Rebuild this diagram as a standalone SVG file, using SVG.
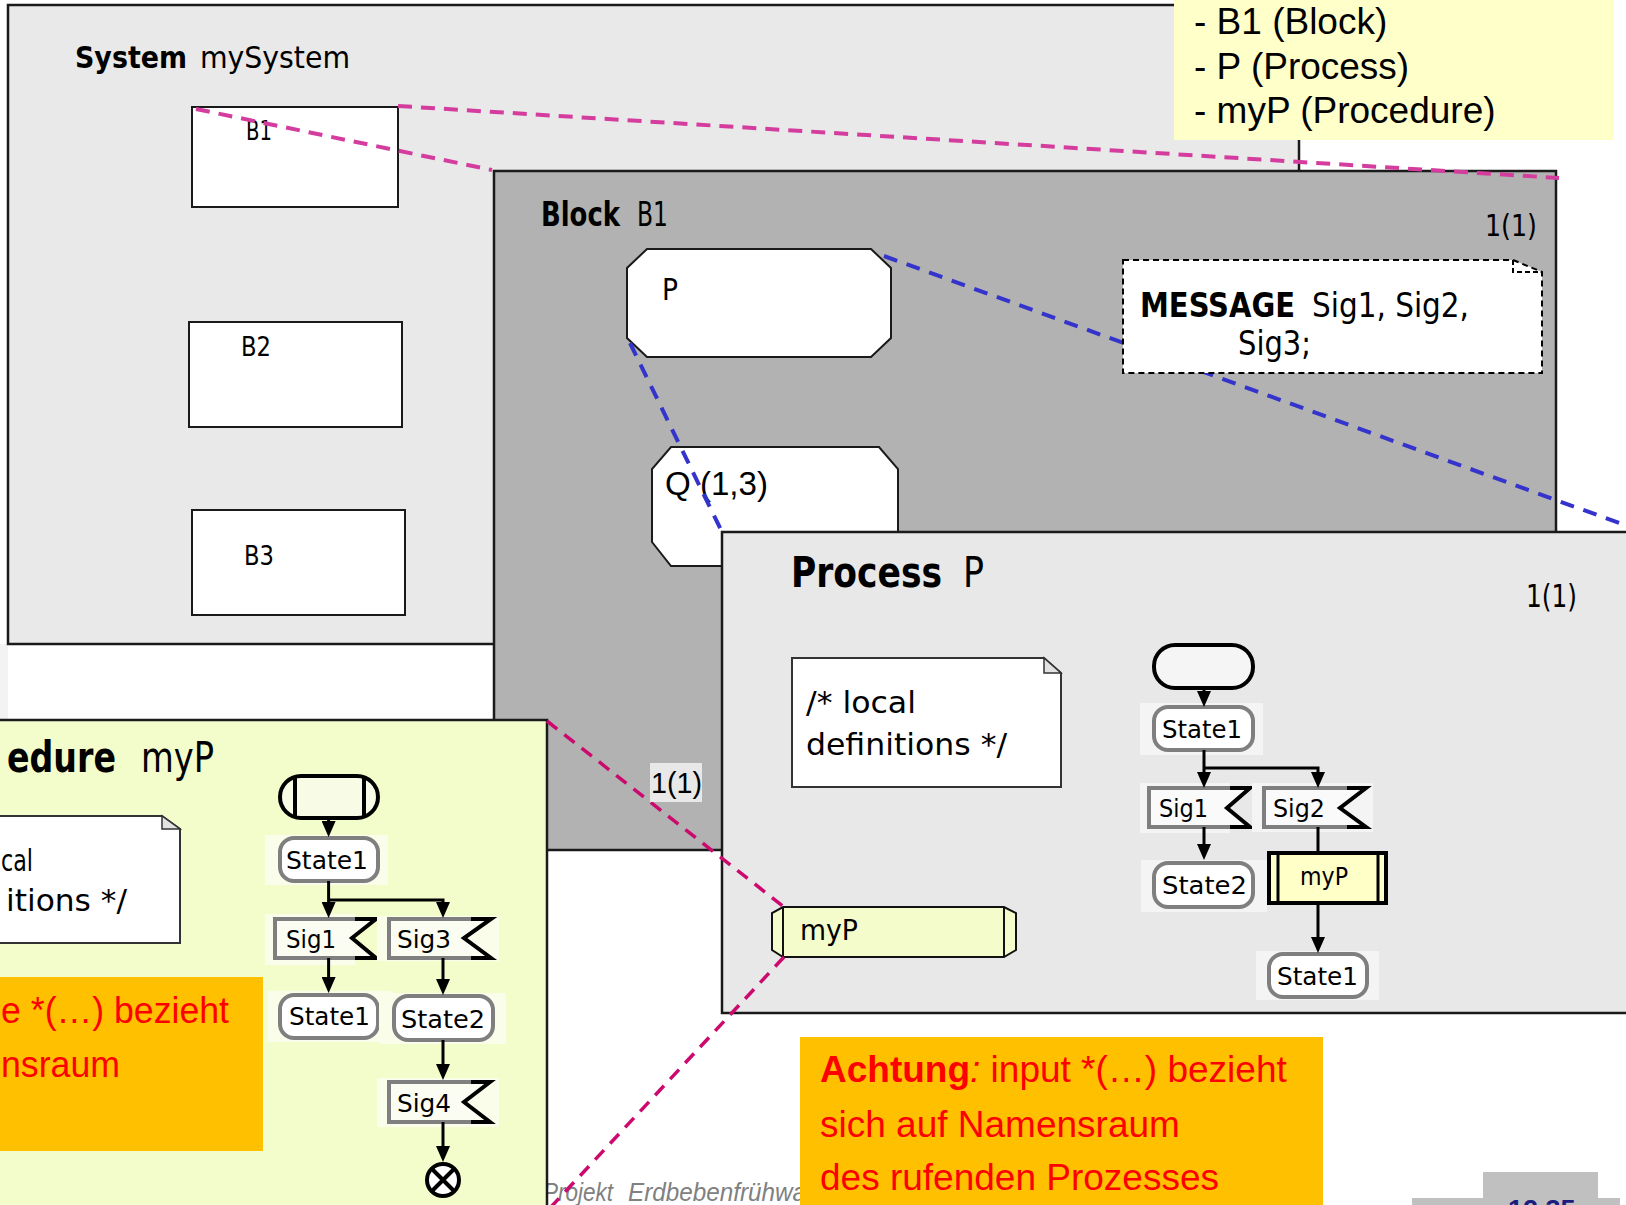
<svg xmlns="http://www.w3.org/2000/svg" width="1626" height="1205" viewBox="0 0 1626 1205">
<defs>
<style>
.c{font-family:"DejaVu Sans Condensed","DejaVu Sans",sans-serif;font-stretch:condensed;fill:#000}
.b{font-weight:bold}
.a{font-family:"Liberation Sans",Arial,sans-serif}
.frame{stroke:#1a1a1a;stroke-width:2.5}
.box{fill:#fff;stroke:#1a1a1a;stroke-width:2}
.state{stroke:#7f7f7f;stroke-width:4}
.ingray{fill:none;stroke:#7f7f7f;stroke-width:4}
.inblk{fill:none;stroke:#000;stroke-width:4}
.flow{fill:none;stroke:#000;stroke-width:3}
.pink{fill:none;stroke:#d43d9e;stroke-width:4;stroke-dasharray:14 9}
.blue{fill:none;stroke:#3434cc;stroke-width:4;stroke-dasharray:14 10}
.mag{fill:none;stroke:#cc0a6e;stroke-width:3.5;stroke-dasharray:13 9}
.note{fill:#fff;stroke:#333;stroke-width:2}
.fold{fill:#e2e2e2;stroke:#333;stroke-width:1.5}
.red{fill:#ff0000;font-size:37px}
.ft{font-size:25px}
.pbg{fill:#f4f4f4}
.qbg{fill:#f9fde9}
</style>
<marker id="ah" markerUnits="userSpaceOnUse" markerWidth="16" markerHeight="14" refX="8" refY="7" orient="auto">
<path d="M0,0 L16,7 L0,14 Z" fill="#000"/>
</marker>
</defs>

<rect width="1626" height="1205" fill="#fff"/>
<rect x="0" y="644" width="8" height="76" fill="#f3f3f3"/>

<!-- system level -->
<g id="system-mySystem">
<rect class="frame" x="8" y="5" width="1291" height="639" fill="#e9e9e9"/>
<text class="c" y="68" font-size="31"><tspan class="b" x="75" textLength="112" lengthAdjust="spacingAndGlyphs">System</tspan><tspan x="200" textLength="150" lengthAdjust="spacingAndGlyphs">mySystem</tspan></text>
</g>
<g id="block-B1-ref">
<rect class="box" x="192" y="107" width="206" height="100"/>
<text class="c" x="246" y="140" font-size="27" textLength="26" lengthAdjust="spacingAndGlyphs">B1</text>
</g>
<g id="block-B2-ref">
<rect class="box" x="189" y="322" width="213" height="105"/>
<text class="c" x="241" y="356" font-size="27" textLength="30" lengthAdjust="spacingAndGlyphs">B2</text>
</g>
<g id="block-B3-ref">
<rect class="box" x="192" y="510" width="213" height="105"/>
<text class="c" x="244" y="565" font-size="27" textLength="30" lengthAdjust="spacingAndGlyphs">B3</text>
</g>

<!-- legend -->
<g id="legend">
<rect x="1174" y="0" width="440" height="140" fill="#ffffc9"/>
<text class="a" x="1194" font-size="37" fill="#000"><tspan y="34">- B1 (Block)</tspan><tspan x="1194" y="79">- P (Process)</tspan><tspan x="1194" y="123">- myP (Procedure)</tspan></text>
</g>

<!-- block level -->
<g id="block-B1">
<rect class="frame" x="494" y="171" width="1062" height="679" fill="#b2b2b2"/>
<text class="c" y="226" font-size="33"><tspan class="b" x="541" textLength="79" lengthAdjust="spacingAndGlyphs">Block</tspan><tspan x="637" textLength="31" lengthAdjust="spacingAndGlyphs">B1</tspan></text>
<text class="c" x="1485" y="236" font-size="30" textLength="52" lengthAdjust="spacingAndGlyphs">1(1)</text>
</g>
<g id="process-P-ref">
<polygon class="box" points="647,249 871,249 891,268 891,338 871,357 647,357 627,338 627,268"/>
<text class="c" x="662" y="300" font-size="31" textLength="16" lengthAdjust="spacingAndGlyphs">P</text>
</g>
<g id="process-Q-ref">
<polygon class="box" points="671,447 879,447 898,469 898,542 879,566 671,566 652,542 652,469"/>
<text class="a" x="665" y="495" font-size="33" textLength="103" lengthAdjust="spacingAndGlyphs">Q (1,3)</text>
</g>

<!-- process level -->
<g id="process-P">
<rect class="frame" x="722" y="532" width="930" height="481" fill="#e8e8e8"/>
<text class="c" y="587" font-size="42"><tspan class="b" x="791" textLength="151" lengthAdjust="spacingAndGlyphs">Process</tspan><tspan x="963" textLength="21" lengthAdjust="spacingAndGlyphs">P</tspan></text>
<text class="c" x="1526" y="607" font-size="32" textLength="51" lengthAdjust="spacingAndGlyphs">1(1)</text>
</g>
<g id="process-local-defs">
<path class="note" d="M792,658 H1044 L1061,673 V787 H792 Z"/>
<path class="fold" d="M1044,658 V673 H1061 Z"/>
<text class="c" font-size="31"><tspan x="806" y="713" textLength="110" lengthAdjust="spacingAndGlyphs">/* local</tspan><tspan x="806" y="755" textLength="201" lengthAdjust="spacingAndGlyphs">definitions */</tspan></text>
</g>
<g id="procedure-myP-ref">
<polygon points="783,907 1004,907 1016,913 1016,950 1004,957 783,957 772,950 772,913" fill="#f3fcca" stroke="#111" stroke-width="2"/>
<path d="M783,907 V957 M1004,907 V957" stroke="#111" stroke-width="2"/>
<text class="c" x="800" y="940" font-size="29" textLength="58" lengthAdjust="spacingAndGlyphs">myP</text>
</g>
<g id="p-start">
<rect x="1154" y="645" width="99" height="43" rx="21" fill="#f5f5f5" stroke="#000" stroke-width="4"/>
</g>
<g id="p-state1">
<rect class="pbg" x="1140" y="703" width="123" height="52"/>
<rect class="state" x="1154" y="707" width="99" height="43" rx="14" fill="#fff"/>
<text class="c ft" x="1162" y="738" textLength="80" lengthAdjust="spacingAndGlyphs">State1</text>
</g>
<g id="p-sig1">
<rect class="pbg" x="1140" y="783" width="90" height="50"/>
<path d="M1149,788 H1250 L1227,808 L1250,827 H1149 Z" fill="#fafafa"/>
<path class="ingray" d="M1230,788 H1149 V827 H1230"/>
<path class="inblk" d="M1230,788 H1250 L1227,808 L1250,827 H1230"/>
<text class="c ft" x="1159" y="817" textLength="49" lengthAdjust="spacingAndGlyphs">Sig1</text>
</g>
<g id="p-sig2">
<rect class="pbg" x="1252" y="783" width="121" height="49"/>
<path d="M1264,788 H1366 L1340,808 L1366,827 H1264 Z" fill="#fafafa"/>
<path class="ingray" d="M1347,788 H1264 V827 H1347"/>
<path class="inblk" d="M1347,788 H1366 L1340,808 L1366,827 H1347"/>
<text class="c ft" x="1273" y="817" textLength="52" lengthAdjust="spacingAndGlyphs">Sig2</text>
</g>
<g id="p-state2">
<rect class="pbg" x="1141" y="860" width="126" height="52"/>
<rect class="state" x="1154" y="863" width="99" height="44" rx="14" fill="#fff"/>
<text class="c ft" x="1162" y="894" textLength="85" lengthAdjust="spacingAndGlyphs">State2</text>
</g>
<g id="p-call-myP">
<rect x="1269" y="853" width="117" height="50" fill="#ffffc8" stroke="#000" stroke-width="4"/>
<path d="M1278,853 V903 M1378,853 V903" stroke="#000" stroke-width="3"/>
<text class="c ft" x="1300" y="885" textLength="48" lengthAdjust="spacingAndGlyphs">myP</text>
</g>
<g id="p-state1-next">
<rect class="pbg" x="1256" y="951" width="123" height="49"/>
<rect class="state" x="1269" y="954" width="98" height="43" rx="14" fill="#fff"/>
<text class="c ft" x="1277" y="985" textLength="81" lengthAdjust="spacingAndGlyphs">State1</text>
</g>

<!-- footer (partly covered) -->
<g id="footer">
<text class="a" y="1201" font-size="26" font-style="italic" fill="#808080"><tspan x="543" textLength="70" lengthAdjust="spacingAndGlyphs">Projekt</tspan><tspan x="628" textLength="178" lengthAdjust="spacingAndGlyphs">Erdbebenfrühwa</tspan></text>
</g>

<!-- procedure level -->
<g id="procedure-myP">
<rect class="frame" x="-10" y="720" width="557" height="500" fill="#f3fccb"/>
<text class="c" y="772" font-size="42"><tspan class="b" x="7" textLength="109" lengthAdjust="spacingAndGlyphs">edure</tspan><tspan x="141" textLength="73" lengthAdjust="spacingAndGlyphs">myP</tspan></text>
</g>
<g id="procedure-local-defs">
<path class="note" d="M-20,816 H162 L180,829 V943 H-20 Z"/>
<path class="fold" d="M162,816 V829 H180 Z"/>
<text class="c" font-size="31"><tspan x="1" y="871" textLength="32" lengthAdjust="spacingAndGlyphs">cal</tspan><tspan x="6" y="911" textLength="121" lengthAdjust="spacingAndGlyphs">itions */</tspan></text>
</g>
<g id="procedure-warning">
<rect x="0" y="977" width="263" height="174" fill="#ffc000"/>
<text class="a red"><tspan x="1" y="1023" textLength="228" lengthAdjust="spacingAndGlyphs">e *(…) bezieht</tspan><tspan x="1" y="1077" textLength="119" lengthAdjust="spacingAndGlyphs">nsraum</tspan></text>
</g>
<g id="q-start">
<rect x="280" y="776" width="98" height="42" rx="21" fill="#f8fce6" stroke="#000" stroke-width="4"/>
<path d="M295,776 V818 M364,776 V818" stroke="#000" stroke-width="4"/>
</g>
<g id="q-state1">
<rect class="qbg" x="265" y="835" width="123" height="50"/>
<rect class="state" x="280" y="838" width="98" height="43" rx="14" fill="#fff"/>
<text class="c ft" x="286" y="869" textLength="82" lengthAdjust="spacingAndGlyphs">State1</text>
</g>
<g id="q-sig1">
<rect class="qbg" x="265" y="914" width="90" height="51"/>
<path d="M275,919 H376 L352,938 L376,958 H275 Z" fill="#fbfdf2"/>
<path class="ingray" d="M355,919 H275 V958 H355"/>
<path class="inblk" d="M355,919 H376 L352,938 L376,958 H355"/>
<text class="c ft" x="286" y="948" textLength="50" lengthAdjust="spacingAndGlyphs">Sig1</text>
</g>
<g id="q-sig3">
<rect class="qbg" x="377" y="916" width="122" height="45"/>
<path d="M389,919 H491 L464,938 L491,958 H389 Z" fill="#fbfdf2"/>
<path class="ingray" d="M471,919 H389 V958 H471"/>
<path class="inblk" d="M471,919 H491 L464,938 L491,958 H471"/>
<text class="c ft" x="397" y="948" textLength="54" lengthAdjust="spacingAndGlyphs">Sig3</text>
</g>
<g id="q-state1-next">
<rect class="qbg" x="268" y="991" width="123" height="51"/>
<rect class="state" x="280" y="995" width="98" height="43" rx="14" fill="#fff"/>
<text class="c ft" x="289" y="1025" textLength="81" lengthAdjust="spacingAndGlyphs">State1</text>
</g>
<g id="q-state2">
<rect class="qbg" x="379" y="993" width="127" height="51"/>
<rect class="state" x="394" y="996" width="99" height="44" rx="14" fill="#fff"/>
<text class="c ft" x="401" y="1028" textLength="84" lengthAdjust="spacingAndGlyphs">State2</text>
</g>
<g id="q-sig4">
<rect class="qbg" x="377" y="1078" width="122" height="49"/>
<path d="M389,1082 H490 L464,1102 L490,1122 H389 Z" fill="#fbfdf2"/>
<path class="ingray" d="M471,1082 H389 V1122 H471"/>
<path class="inblk" d="M471,1082 H490 L464,1102 L490,1122 H471"/>
<text class="c ft" x="397" y="1112" textLength="54" lengthAdjust="spacingAndGlyphs">Sig4</text>
</g>
<g id="q-stop">
<circle cx="443" cy="1180" r="16" fill="#fff" stroke="#000" stroke-width="4"/>
<path d="M432,1169 L454,1191 M454,1169 L432,1191" stroke="#000" stroke-width="4"/>
</g>

<!-- connectors: refinement links and flow arrows -->
<g id="connectors">
<path class="pink" d="M196,109 L492,170"/>
<path class="pink" d="M398,106 L1559,178"/>
<path class="blue" d="M630,343 L722,532"/>
<path class="blue" d="M884,256 L1644,532"/>
<path class="mag" d="M547,721 L784,907"/>
<path class="mag" d="M784,957 L550,1208"/>
<path class="flow" d="M1204,688 V699" marker-end="url(#ah)"/>
<path class="flow" d="M1204,750 V780" marker-end="url(#ah)"/>
<path class="flow" d="M1204,768 H1318 V780" marker-end="url(#ah)"/>
<path class="flow" d="M1204,827 V852" marker-end="url(#ah)"/>
<path class="flow" d="M1318,827 V853"/>
<path class="flow" d="M1318,903 V945" marker-end="url(#ah)"/>
<path class="flow" d="M328.6,818 V829" marker-end="url(#ah)"/>
<path class="flow" d="M328.6,881 V910" marker-end="url(#ah)"/>
<path class="flow" d="M328.6,900 H443 V910" marker-end="url(#ah)"/>
<path class="flow" d="M328.6,958 V985" marker-end="url(#ah)"/>
<path class="flow" d="M443,958 V987" marker-end="url(#ah)"/>
<path class="flow" d="M443,1040 V1072" marker-end="url(#ah)"/>
<path class="flow" d="M443,1122 V1154" marker-end="url(#ah)"/>
</g>

<g id="message-decl">
<path d="M1123,260 H1513 L1542,272 V373 H1123 Z" fill="#fff" stroke="#000" stroke-width="2" stroke-dasharray="6 4"/>
<path d="M1513,260 V272 H1542" fill="none" stroke="#000" stroke-width="2" stroke-dasharray="5 3"/>
<text class="c" font-size="33"><tspan class="b" x="1140" y="317" textLength="155" lengthAdjust="spacingAndGlyphs">MESSAGE</tspan><tspan x="1312" y="317" textLength="157" lengthAdjust="spacingAndGlyphs">Sig1, Sig2,</tspan><tspan x="1238" y="355" textLength="73" lengthAdjust="spacingAndGlyphs">Sig3;</tspan></text>
</g>

<g id="page-label">
<rect x="650" y="763" width="52" height="39" fill="#e8e8e8"/>
<text class="a" x="651" y="793" font-size="29" fill="#000" textLength="51" lengthAdjust="spacingAndGlyphs">1(1)</text>
</g>

<g id="warning">
<rect x="800" y="1037" width="523" height="175" fill="#ffc000"/>
<text class="a red"><tspan x="820" y="1082" font-weight="bold">Achtung</tspan><tspan font-style="italic">:</tspan><tspan> input *(…) bezieht</tspan><tspan x="820" y="1137">sich auf Namensraum</tspan><tspan x="820" y="1190">des rufenden Prozesses</tspan></text>
</g>

<g id="page-number">
<rect x="1483" y="1172" width="115" height="40" fill="#c0c0c0"/>
<rect x="1412" y="1198" width="208" height="14" fill="#c0c0c0"/>
<text class="a" x="1508" y="1219" font-size="27" font-weight="bold" fill="#1c1c80">12.35</text>
</g>
</svg>
